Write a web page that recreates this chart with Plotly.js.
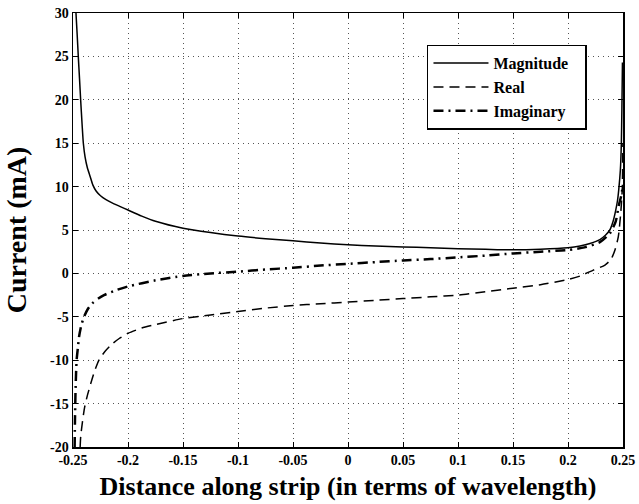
<!DOCTYPE html>
<html>
<head>
<meta charset="utf-8">
<script src="https://cdn.plot.ly/plotly-3.0.1.min.js"></script>
<style>
  html, body { margin: 0; padding: 0; background: #fff; }
  #chart { width: 639px; height: 504px; }
</style>
</head>
<body>
<div id="chart"></div>
<script>
// Current distribution along the strip (mA) versus position (wavelengths)
const magX = [-0.2473, -0.2462, -0.2452, -0.2441, -0.2430, -0.2418, -0.2406, -0.2390, -0.2370,
  -0.2345, -0.2320, -0.2290, -0.2250, -0.2200, -0.2140, -0.2070, -0.2000, -0.1875,
  -0.1750, -0.1500, -0.1250, -0.1000, -0.0750, -0.0500, -0.0250, 0, 0.025, 0.050, 0.075,
  0.100, 0.125, 0.150, 0.175, 0.200, 0.211, 0.220, 0.229, 0.234, 0.238, 0.2410, 0.2434,
  0.2450, 0.2461, 0.2476, 0.2485, 0.2490, 0.2495];
const magY = [30, 27.5, 25, 22.5, 19.9, 17.3, 15, 13.4, 12.2,
  11.2, 10.2, 9.5, 8.95, 8.5, 8.1, 7.7, 7.3, 6.6,
  6.0, 5.2, 4.7, 4.3, 4.0, 3.75, 3.5, 3.3, 3.15, 3.05, 2.95,
  2.85, 2.78, 2.72, 2.78, 2.95, 3.16, 3.45, 3.9, 4.4, 5.0, 6.0, 7.3,
  8.4, 9.6, 11.9, 15, 19, 24.3];

const reX = [-0.2435, -0.2430, -0.2413, -0.2394, -0.2368, -0.2339, -0.2305, -0.2264, -0.2210,
  -0.2150, -0.2080, -0.2000, -0.1875, -0.1750, -0.1500,
  -0.1250, -0.1000, -0.0750, -0.0500, -0.0250, 0, 0.025, 0.050, 0.075, 0.100, 0.125,
  0.150, 0.175, 0.200, 0.211, 0.223, 0.2336, 0.2390, 0.2427, 0.2457, 0.2479, 0.2493, 0.2499];
const reY = [-20, -18.8, -17.0, -15.4, -14.0, -12.7, -11.3, -10, -9.0,
  -8.2, -7.5, -6.9, -6.3, -5.9, -5.2,
  -4.8, -4.4, -4.0, -3.7, -3.5, -3.3, -3.1, -2.9, -2.7, -2.5, -2.1,
  -1.7, -1.3, -0.7, -0.3, 0.38, 0.96, 1.6, 2.7, 4.2, 6.9, 9.6, 15];

const imX = [-0.2485, -0.2482, -0.2476, -0.2467, -0.2455, -0.2445, -0.2425, -0.2400, -0.2365,
  -0.2325, -0.2270, -0.2218, -0.2100, -0.2000,
  -0.1750, -0.1500, -0.1250, -0.1000, -0.0750, -0.0500, -0.0250, 0, 0.025, 0.050, 0.075,
  0.100, 0.125, 0.150, 0.175, 0.200, 0.215, 0.229, 0.238, 0.2434, 0.2461, 0.2485, 0.2497];
const imY = [-20, -16.9, -13, -10, -8.5, -7.3, -6.0, -5.0, -4.1,
  -3.45, -2.9, -2.5, -1.9, -1.5,
  -0.8, -0.3, 0.0, 0.2, 0.45, 0.65, 0.9, 1.1, 1.3, 1.5, 1.65,
  1.85, 2.05, 2.3, 2.5, 2.7, 3.0, 3.6, 4.6, 6.0, 7.8, 9.0, 10];

const xTickVals = [-0.25, -0.2, -0.15, -0.1, -0.05, 0, 0.05, 0.1, 0.15, 0.2, 0.25];
const xTickText = ['-0.25', '-0.2', '-0.15', '-0.1', '-0.05', '0', '0.05', '0.1', '0.15', '0.2', '0.25'];
const yTickVals = [-20, -15, -10, -5, 0, 5, 10, 15, 20, 25, 30];
const yTickText = ['-20', '-15', '-10', '-5', '0', '5', '10', '15', '20', '25', '30'];
const seriesNames = ['Magnitude', 'Real', 'Imaginary'];

const serif = 'Liberation Serif, Times New Roman, serif';
const bold = s => '<b>' + s + '</b>';
// a little trailing room inside the legend box
const legendName = s => bold(s) + '\u00a0\u00a0\u00a0';

const traces = [
  { x: magX, y: magY, name: legendName(seriesNames[0]), mode: 'lines',
    line: { color: '#000', width: 1.5, dash: 'solid', shape: 'spline', smoothing: 0.6 } },
  { x: reX, y: reY, name: legendName(seriesNames[1]), mode: 'lines',
    line: { color: '#000', width: 1.5, dash: '10px,6px', shape: 'spline', smoothing: 0.6 } },
  { x: imX, y: imY, name: legendName(seriesNames[2]), mode: 'lines',
    line: { color: '#000', width: 2.5, dash: '10px,5px,2px,5px', shape: 'spline', smoothing: 0.6 } }
];

const axisCommon = {
  showline: true, linecolor: '#000', linewidth: 1.5, mirror: 'ticks',
  ticks: 'inside', ticklen: 5, tickwidth: 1, tickcolor: '#000',
  showgrid: true, gridcolor: '#555', gridwidth: 1, griddash: '1px,4px',
  zeroline: false,
  tickfont: { family: serif, size: 14, color: '#000' }
};

const layout = {
  width: 639, height: 504,
  margin: { l: 73, r: 16, t: 13, b: 57 },
  paper_bgcolor: '#fff', plot_bgcolor: '#fff',
  showlegend: true,
  xaxis: Object.assign({}, axisCommon, {
    range: [-0.25, 0.25], tickmode: 'array', tickvals: xTickVals, ticktext: xTickText.map(bold),
    title: { text: bold('Distance along strip (in terms of wavelength)'),
      font: { family: serif, size: 26, color: '#000' }, standoff: 9 }
  }),
  yaxis: Object.assign({}, axisCommon, {
    range: [-20, 30], tickmode: 'array', tickvals: yTickVals, ticktext: yTickText.map(bold),
    title: { text: bold('Current (mA)'),
      font: { family: serif, size: 28, color: '#000' }, standoff: 15 }
  }),
  legend: {
    x: 0.6436, y: 0.927, xanchor: 'left', yanchor: 'top',
    bgcolor: '#fff', bordercolor: '#000', borderwidth: 1.5,
    font: { family: serif, size: 16, color: '#000' },
    itemwidth: 55, tracegroupgap: 0
  }
};

Plotly.newPlot('chart', traces, layout, { displayModeBar: false, staticPlot: true });
</script>
</body>
</html>
